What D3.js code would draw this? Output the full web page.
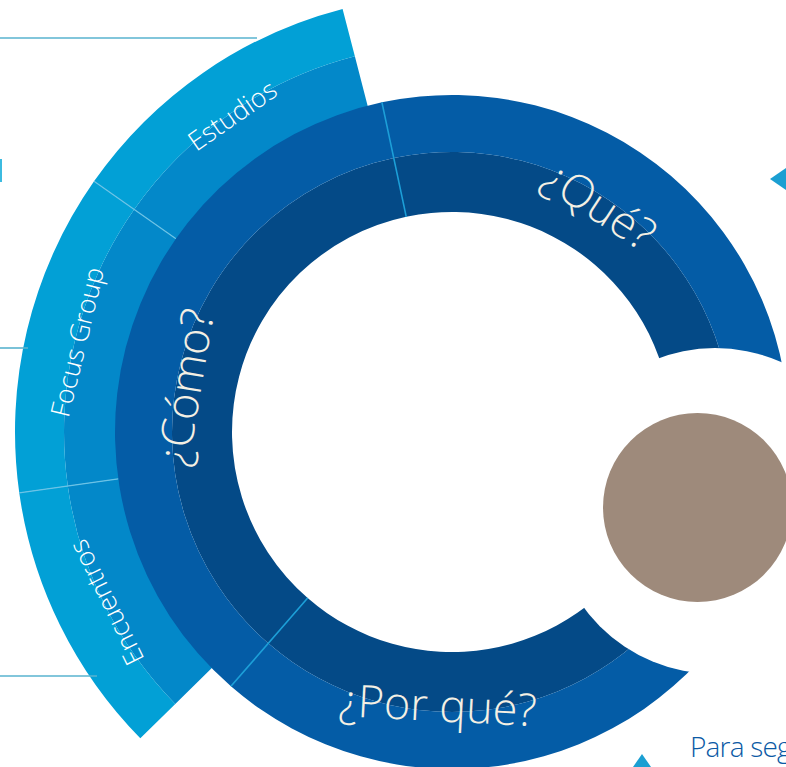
<!DOCTYPE html>
<html><head><meta charset="utf-8">
<script src="https://cdn.jsdelivr.net/npm/d3@7"></script>
<style>html,body{margin:0;padding:0;background:#fff;overflow:hidden}</style>
</head><body>
<svg id="chart" width="786" height="767"></svg>
<script>
// ---- data (angles in degrees, clockwise from 12 o'clock) ----
const questions = ["¿Por qué?", "¿Cómo?", "¿Qué?"];
const questionSpans = [86, 127, 90];
const questionStart = 135;
const methods = ["Encuentros", "Focus Group", "Estudios"];
const methodSpans = [36.5, 43, 40.5];
const methodStart = 225.5;
const footerText = "Para seguir";

const svg = d3.select("#chart");
const cx = 452, cy = 432;
const rad = d3.scaleLinear().domain([0, 360]).range([0, 2 * Math.PI]);
const FONT = "'Open Sans', Lato, sans-serif";

function spans(start, arr) {
  let a = start;
  return arr.map((s, i) => { const o = {i, start: a, end: a + s}; a += s; return o; });
}
const qSeg = spans(questionStart, questionSpans);
const mSeg = spans(methodStart, methodSpans);

const g = svg.append("g").attr("transform", `translate(${cx},${cy})`);

// left guide lines
const guideY = [38, 348, 676], guideX2 = [257, 28, 97];
svg.selectAll("line.guide").data(guideY).join("line")
  .attr("x1", 0).attr("x2", (d, i) => guideX2[i]).attr("y1", d => d).attr("y2", d => d)
  .attr("stroke", "#58b3cf").attr("stroke-width", 1.6);
svg.append("rect").attr("x", 0).attr("y", 159).attr("width", 2).attr("height", 23).attr("fill", "#3cbbe0");

// outer method ring (two bands)
const R_MID = 337;
const mBands = [{r0: R_MID - 1, r1: 388, c: "#0388c9"}, {r0: 388, r1: 437, c: "#02a0d6"}];
mBands.forEach(b => {
  g.selectAll(null).data(mSeg).join("path")
    .attr("d", d => d3.arc().innerRadius(b.r0).outerRadius(b.r1)
      .startAngle(rad(d.start)).endAngle(rad(d.end))())
    .attr("fill", b.c);
});
// method separators
g.selectAll("line.msep").data(mSeg.slice(1)).join("line")
  .attr("x1", d => d3.pointRadial(rad(d.start), R_MID)[0])
  .attr("y1", d => d3.pointRadial(rad(d.start), R_MID)[1])
  .attr("x2", d => d3.pointRadial(rad(d.start), 437)[0])
  .attr("y2", d => d3.pointRadial(rad(d.start), 437)[1])
  .attr("stroke", "#6cc3e6").attr("stroke-width", 1.2);

// inner question ring (two bands)
const qBands = [{r0: 220, r1: 280, c: "#044a87"}, {r0: 280, r1: R_MID, c: "#045ca6"}];
const ext = 15;
qBands.forEach(b => {
  g.selectAll(null).data(qSeg).join("path")
    .attr("d", (d, i) => d3.arc().innerRadius(b.r0).outerRadius(b.r1)
      .startAngle(rad(i === 0 ? d.start - ext : d.start))
      .endAngle(rad(i === qSeg.length - 1 ? d.end + ext : d.end))())
    .attr("fill", b.c);
});
g.selectAll("line.qsep").data(qSeg.slice(1)).join("line")
  .attr("x1", d => d3.pointRadial(rad(d.start), 220)[0])
  .attr("y1", d => d3.pointRadial(rad(d.start), 220)[1])
  .attr("x2", d => d3.pointRadial(rad(d.start), R_MID)[0])
  .attr("y2", d => d3.pointRadial(rad(d.start), R_MID)[1])
  .attr("stroke", "#1c9fd8").attr("stroke-width", 1.6);

// white notch and brown dot
svg.append("circle").attr("cx", 715).attr("cy", 511).attr("r", 163).attr("fill", "#fff");
svg.append("circle").attr("cx", 697.5).attr("cy", 507.5).attr("r", 94.5).attr("fill", "#9e8a7b");

// labels
function rot(a) {
  a = ((a % 360) + 360) % 360;
  if (a > 135 && a < 225) return a - 180;
  return a > 180 ? a - 360 : a;
}
const qNudge = [5, -5, 0];
g.selectAll("text.q").data(qSeg).join("text")
  .attr("transform", (d, i) => {
    const a = (Math.max(d.start, 135) + Math.min(d.end, 438)) / 2 + qNudge[i];
    const p = d3.pointRadial(rad(a), 272);
    return `translate(${p[0]},${p[1]}) rotate(${rot(a)})`;
  })
  .attr("text-anchor", "middle").attr("dominant-baseline", "central")
  .attr("font-family", FONT).attr("font-weight", 300).attr("font-size", 45)
  .attr("fill", "#f4f0e4")
  .text(d => questions[d.i]);

g.selectAll("text.m").data(mSeg).join("text")
  .attr("transform", d => {
    const a = (d.start + d.end) / 2;
    const p = d3.pointRadial(rad(a), 386);
    return `translate(${p[0]},${p[1]}) rotate(${rot(a)})`;
  })
  .attr("text-anchor", "middle").attr("dominant-baseline", "central")
  .attr("font-family", FONT).attr("font-weight", 300).attr("font-size", 26.5)
  .attr("fill", "#ffffff")
  .text(d => methods[d.i]);

// triangles
svg.append("path").attr("d", "M770,179 L786,168 L786,190 Z").attr("fill", "#1b9fd2");
svg.append("path").attr("d", "M642,754 L633,767 L651,767 Z").attr("fill", "#1b9fd2");

svg.append("text").attr("x", 690).attr("y", 757)
  .attr("font-family", FONT).attr("font-weight", 300).attr("font-size", 28)
  .attr("letter-spacing", -0.8)
  .attr("fill", "#0b5aa5").text(footerText);
</script>
</body></html>
